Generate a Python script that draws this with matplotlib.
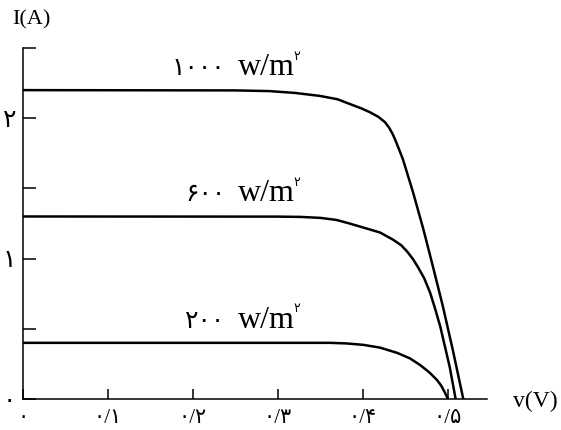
import matplotlib

matplotlib.use("Agg")
import matplotlib.pyplot as plt  # noqa: E402

# I-V curves of a solar cell at three irradiance levels (V in volts, I in amps)
V_1000 = [0.0, 0.25, 0.29, 0.32, 0.349, 0.37, 0.385, 0.398, 0.408, 0.418, 0.426, 0.431,
          0.435, 0.438, 0.441, 0.447, 0.459, 0.471, 0.482, 0.494, 0.506, 0.518]
I_1000 = [2.2, 2.198, 2.193, 2.18, 2.159, 2.135, 2.10, 2.07, 2.043, 2.01, 1.971, 1.93,
          1.886, 1.845, 1.80, 1.707, 1.47, 1.21, 0.95, 0.66, 0.34, 0.0]

V_600 = [0.0, 0.30, 0.326, 0.35, 0.369, 0.383, 0.396, 0.42, 0.435, 0.445, 0.452, 0.459,
         0.465, 0.472, 0.479, 0.485, 0.491, 0.502, 0.509]
I_600 = [1.3, 1.299, 1.297, 1.29, 1.275, 1.252, 1.229, 1.186, 1.136, 1.095, 1.05, 0.995,
         0.936, 0.86, 0.757, 0.64, 0.514, 0.229, 0.0]

V_200 = [0.0, 0.361, 0.38, 0.40, 0.42, 0.44, 0.455, 0.467, 0.478, 0.487, 0.492, 0.496, 0.50]
I_200 = [0.4, 0.40, 0.396, 0.386, 0.366, 0.329, 0.29, 0.243, 0.19, 0.136, 0.095, 0.05, 0.0]

CURVES = [
    (V_1000, I_1000, "۱۰۰۰"),
    (V_600, I_600, "۶۰۰"),
    (V_200, I_200, "۲۰۰"),
]

X_TICKS = [0.0, 0.1, 0.2, 0.3, 0.4, 0.5]
X_LABELS = ["۰", "۰/۱", "۰/۲", "۰/۳", "۰/۴", "۰/۵"]
Y_TICKS = [0.0, 0.5, 1.0, 1.5, 2.0, 2.5]
Y_LABELS = ["۰", "", "۱", "", "۲", ""]

FAMILY = ["Liberation Serif", "DejaVu Sans"]
LABEL_X = 0.32  # right edge of "w/m" in volts

plt.rcParams["font.family"] = FAMILY

fig = plt.figure(figsize=(5.61, 4.30), dpi=100)
ax = fig.add_axes([23 / 561, 31 / 430, 464 / 561, 351 / 430])

for v, i, power in CURVES:
    ax.plot(v, i, color="black", lw=1.8, solid_capstyle="butt", solid_joinstyle="round")
    isc = i[0]
    ax.annotate("w/m", xy=(LABEL_X, isc), xytext=(0, 11), textcoords="offset points",
                ha="right", va="baseline", fontsize=23, family=FAMILY)
    ax.annotate(power, xy=(LABEL_X, isc), xytext=(-50, 11), textcoords="offset points",
                ha="right", va="baseline", fontsize=18, family="DejaVu Sans")
    ax.annotate("۲", xy=(LABEL_X, isc), xytext=(-1, 22), textcoords="offset points",
                ha="left", va="baseline", fontsize=9, family="DejaVu Sans")

ax.set_xlim(0, 0.5459)
ax.set_ylim(0, 2.5)
for side in ("top", "right"):
    ax.spines[side].set_visible(False)
for side in ("left", "bottom"):
    ax.spines[side].set_linewidth(1.1)

ax.set_xticks(X_TICKS)
ax.set_xticklabels(X_LABELS, fontsize=15)
ax.set_yticks(Y_TICKS)
ax.set_yticklabels(Y_LABELS, fontsize=18)
ax.tick_params(axis="x", direction="in", length=7, width=1.1, pad=7)
ax.tick_params(axis="y", direction="in", length=9, width=1.1, pad=5)

fig.text(31 / 561, 1 - 20 / 430, "I(A)", ha="center", va="center", fontsize=16)
fig.text(535 / 561, 1 - 401 / 430, "v(V)", ha="center", va="center", fontsize=17)

fig.savefig("out.png", dpi=100)
